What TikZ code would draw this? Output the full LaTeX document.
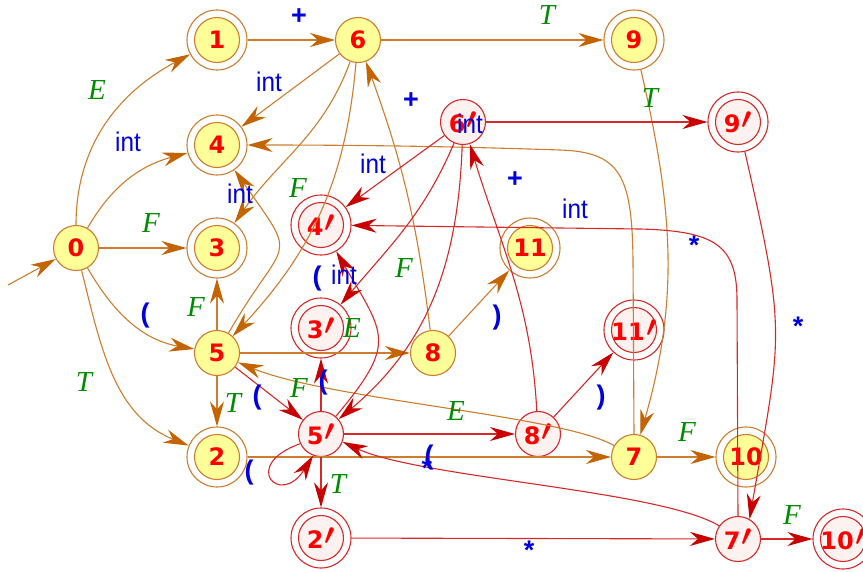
\documentclass[tikz,border=0pt]{standalone}
\usepackage{fontspec}
\usetikzlibrary{arrows.meta}
\newfontfamily\nodefont{DejaVu Sans}
\newfontfamily\serifit{Liberation Serif}
\newfontfamily\intfont[FakeStretch=0.9]{Liberation Sans}
\newfontfamily\symfont{Liberation Sans}
\newcommand\prm{\kern1.5pt\raisebox{4pt}{\scalebox{1.2}{\boldmath$\prime$}}}
\definecolor{OrLine}{RGB}{205,125,45}
\definecolor{OrTip}{RGB}{195,100,0}
\definecolor{RdLine}{RGB}{215,40,40}
\definecolor{RdTip}{RGB}{200,0,0}
\definecolor{Yel}{RGB}{255,255,153}
\definecolor{Pink}{RGB}{253,242,240}
\definecolor{NodeRed}{RGB}{255,0,0}
\definecolor{Blu}{RGB}{0,0,220}
\definecolor{Grn}{RGB}{0,140,0}
\begin{document}
\begin{tikzpicture}[x=1pt,y=1pt,
  nlab/.style={font=\nodefont\bfseries\fontsize{24}{24}\selectfont, text=NodeRed, inner sep=0pt, circle, line width=1.1pt},
  yst/.style={nlab, draw=OrLine, fill=Yel, minimum size=45pt},
  yacc/.style={nlab, draw=OrLine, fill=white, minimum size=60pt,
     path picture={\draw[OrLine, fill=Yel, line width=1.1pt] (path picture bounding box.center) circle (22.5pt);}},
  rst/.style={nlab, draw=RdLine, fill=Pink, minimum size=45pt},
  racc/.style={nlab, draw=RdLine, fill=white, minimum size=60pt,
     path picture={\draw[RdLine, fill=Pink, line width=1.1pt] (path picture bounding box.center) circle (22.5pt);}},
  ob/.style={draw=OrLine, line width=1.1pt, -{Stealth[length=25pt,width=14pt,inset=8pt,color=OrTip]}},
  rb/.style={draw=RdLine, line width=1.1pt, -{Stealth[length=25pt,width=14pt,inset=8pt,color=RdTip]}},
  lE/.style={text=Grn, font=\serifit\itshape\fontsize{29}{29}\selectfont, inner sep=0pt},
  lint/.style={text=Blu, font=\intfont\fontsize{27}{27}\selectfont, inner sep=0pt},
  lsym/.style={text=Blu, font=\symfont\bfseries\fontsize{27}{27}\selectfont, inner sep=0pt}
]
\useasboundingbox (0,0) rectangle (863,-571);
% nodes
\node[yst]  (n0)  at (76,-248)  {0};
\node[yacc] (n1)  at (217,-40)  {1};
\node[yst]  (n6)  at (358,-40)  {6};
\node[yacc] (n9)  at (634,-40)  {9};
\node[yacc] (n4)  at (217,-145) {4};
\node[yacc] (n3)  at (217,-248) {3};
\node[yst]  (n5)  at (217,-353) {5};
\node[yacc] (n2)  at (217,-457) {2};
\node[rst]  (n6p) at (463,-122) {6\prm};
\node[racc] (n9p) at (738,-122) {9\prm};
\node[racc] (n4p) at (321,-225) {4\prm};
\node[yacc] (n11) at (530,-248) {11};
\node[racc] (n3p) at (321,-328) {3\prm};
\node[yst]  (n8)  at (433,-353) {8};
\node[racc] (n11p) at (634,-330) {11\prm};
\node[rst]  (n5p) at (321,-434) {5\prm};
\node[rst]  (n8p) at (538,-434) {8\prm};
\node[yst]  (n7)  at (634,-457) {7};
\node[yacc] (n10) at (746,-457) {10};
\node[racc] (n2p) at (321,-538) {2\prm};
\node[rst]  (n7p) at (738,-539) {7\prm};
\node[racc] (n10p) at (843,-539) {10\prm};
\coordinate (st) at (8,-285);
% orange edges
\draw[ob] (st) -- (n0);
\draw[ob] (n0) to[out=90,in=208] (n1);
\draw[ob] (n0) to[out=60,in=195] (n4);
\draw[ob] (n0) -- (n3);
\draw[ob] (n0) to[out=-60,in=170] (n5);
\draw[ob] (n0) to[out=-76,in=158] (n2);
\draw[ob] (n1) -- (n6);
\draw[ob] (n6) -- (n9);
\draw[ob] (n6) -- (n4);
\draw[ob] (n6) to[out=250,in=55] (n3);
\draw[ob] (n6) to[out=265,in=47] (n5);
\draw[ob] (n8) to[out=97,in=290] (n6);
\draw[ob] (n9) to[out=-77,in=74] (n7);
\draw[ob] (n7.north) -- (633,-260) .. controls (632,-175) and (620,-152) .. (560,-150) .. controls (500,-148) and (400,-145) .. (n4);
\draw[ob] (n8) -- (n11);
\draw[ob] (n5) -- (n8);
\draw[ob] (n5) -- (n3);
\draw[ob] (n5) -- (n2);
\draw[ob] (n5) to[out=60,in=-55,looseness=1.8] (n4);
\draw[ob] (n7.150) .. controls (560,-415) and (330,-400) .. (n5.-24);
\draw[ob] (n2) -- (n7);
\draw[ob] (n7) -- (n10);
% red edges
\draw[rb] (n5) -- (n5p);
\draw[rb] (n5p.205) .. controls (240,-465) and (280,-508) .. (n5p.250);
\draw[rb] (n5p) -- (n3p);
\draw[rb] (n5p) -- (n8p);
\draw[rb] (n5p) -- (n2p);
\draw[rb] (n5p) to[out=50,in=-60,looseness=1.5] (n4p);
\draw[rb] (n6p) -- (n4p);
\draw[rb] (n6p) to[out=247,in=50] (n3p);
\draw[rb] (n6p) to[out=268,in=40] (n5p);
\draw[rb] (n8p) to[out=93,in=287] (n6p);
\draw[rb] (n8p) -- (n11p);
\draw[rb] (n6p) -- (n9p);
\draw[rb] (n9p.-77) .. controls (787,-336) and (782,-332) .. (n7p.60);
\draw[rb] (n7p.north) -- (737,-300) .. controls (737,-245) and (715,-231) .. (640,-229) -- (n4p);
\draw[rb] (n7p.145) .. controls (660,-490) and (420,-478) .. (n5p.-20);
\draw[rb] (n2p) -- (n7p);
\draw[rb] (n7p) -- (n10p);
% labels
\node[lE] (a1) at (97,-90) {E};
\node[lint] (a2) at (128,-142) {int};
\node[lE] (a3) at (151,-223) {F};
\node[lsym] (a4) at (145,-316) {(};
\node[lE] (a5) at (84,-382) {T};
\node[lsym] (a6) at (299,-17) {+};
\node[lE] (a7) at (547,-15) {T};
\node[lint] (a8) at (269,-82) {int};
\node[lint] (a9) at (240,-194) {int};
\node[lE] (a10) at (298,-188) {F};
\node[lsym] (a11) at (411,-101) {+};
\node[lint] (a12) at (470,-124) {int};
\node[lint] (a13) at (373,-164) {int};
\node[lsym] (a14) at (317,-279) {(};
\node[lint] (a15) at (344,-275) {int};
\node[lE] (a16) at (404,-268) {F};
\node[lE] (a17) at (352,-328) {E};
\node[lsym] (a18) at (515,-180) {+};
\node[lint] (a19) at (575,-209) {int};
\node[lsym] (a20) at (497,-318) {)};
\node[lE] (a21) at (650,-98) {T};
\node[lsym] (a22) at (694,-245) {*};
\node[lsym] (a23) at (798,-326) {*};
\node[lE] (a24) at (196,-307) {F};
\node[lE] (a25) at (233,-403) {T};
\node[lsym] (a26) at (257,-398) {(};
\node[lsym] (a27) at (249,-473) {(};
\node[lE] (a28) at (299,-388) {F};
\node[lsym] (a29) at (323,-383) {(};
\node[lE] (a30) at (456,-411) {E};
\node[lsym] (a31) at (601,-398) {)};
\node[lsym] (a32) at (427,-468) {*};
\node[lsym] (a33) at (429,-458) {(};
\node[lE] (a34) at (338,-484) {T};
\node[lsym] (a35) at (529,-550) {*};
\node[lE] (a36) at (687,-432) {F};
\node[lE] (a37) at (792,-515) {F};
\end{tikzpicture}
\end{document}
